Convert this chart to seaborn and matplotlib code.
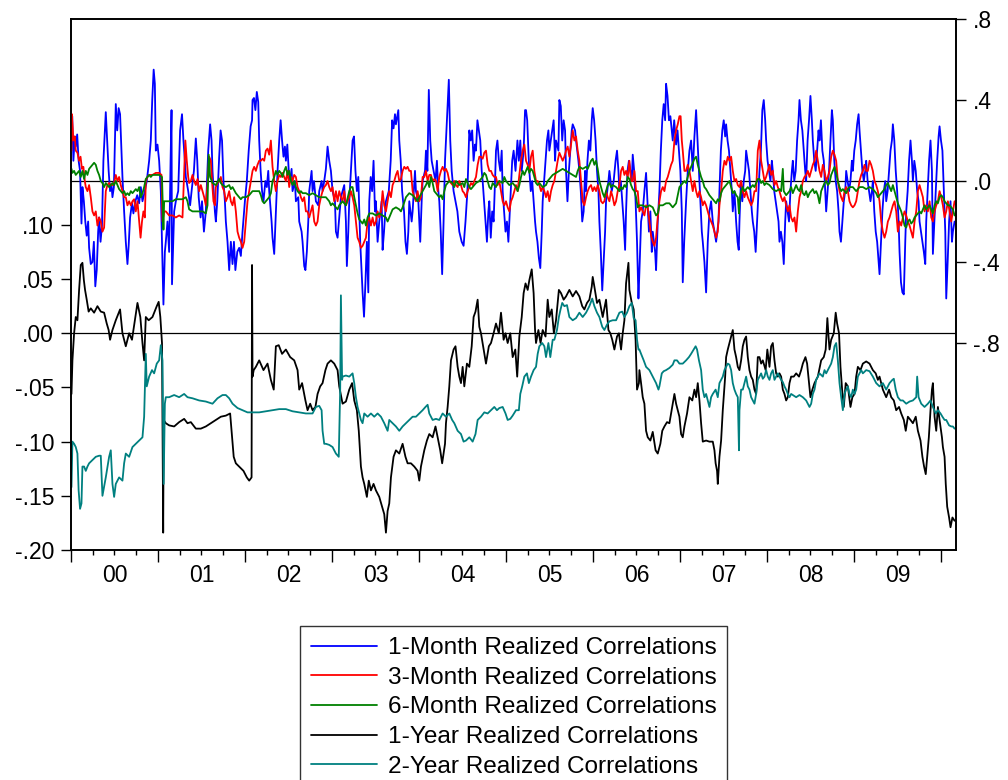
import matplotlib
matplotlib.use("Agg")
import matplotlib.pyplot as plt
import matplotlib.dates as mdates
from matplotlib.lines import Line2D
import pandas as pd
import seaborn as sns

# ---------------- data: (business-day index from 2000-01-03, value) ----------------
BLUE_1M = [
(0,0.19),(3,0.32),(6,0.10),(10,0.22),(14,0.17),(18,0.23),(22,0.10),(26,0.05),(30,-0.21),(34,-0.03),(38,-0.10),(42,-0.20),(46,-0.27),(50,-0.20),(54,-0.33),(59,-0.41),(64,-0.40),(68,-0.30),(72,-0.52),(76,-0.44),(80,-0.25),(84,-0.18),(88,-0.30),(92,-0.22),(96,0.10),(100,0.25),(104,0.34),(108,0.20),(112,0.05),(116,-0.05),(120,-0.02),(124,-0.08),(128,-0.03),(134,0.38),(138,0.25),(142,0.36),(146,0.33),(150,0.15),(154,0.02),(159,-0.15),(164,-0.30),(169,-0.41),(172,-0.32),(176,-0.18),(182,-0.11),(186,-0.16),(192,-0.10),(198,-0.07),(204,-0.11),(209,-0.03),(214,-0.10),(220,-0.05),(226,0.00),(230,0.06),(234,0.10),(239,0.20),(243,0.40),(247,0.55),(250,0.48),(254,0.15),(259,0.18),(264,0.10),(269,-0.05),(273,-0.35),(276,-0.61),(280,-0.35),(284,-0.30),(289,-0.20),(294,-0.35),(298,0.10),(300,0.35),(302,-0.51),(309,-0.15),(314,-0.10),(320,-0.05),(326,0.25),(332,0.33),(336,0.20),(340,0.10),(344,0.02),(350,-0.05),(356,-0.12),(362,-0.03),(368,0.05),(374,0.21),(378,0.10),(382,-0.08),(388,-0.18),(392,-0.10),(398,-0.25),(404,-0.15),(410,0.15),(416,0.28),(420,0.20),(424,0.05),(430,-0.15),(434,-0.20),(438,-0.10),(444,0.12),(448,0.25),(452,0.20),(456,0.00),(460,-0.10),(464,-0.20),(469,-0.30),(474,-0.44),(479,-0.30),(484,-0.41),(488,-0.30),(492,-0.44),(498,-0.35),(504,-0.33),(509,-0.37),(514,-0.25),(520,-0.10),(526,0.00),(532,0.15),(538,0.27),(542,0.30),(544,0.40),(548,0.41),(552,0.35),(556,0.44),(560,0.39),(564,0.20),(568,0.05),(572,-0.05),(576,-0.10),(582,0.00),(586,-0.03),(590,0.05),(594,-0.05),(600,-0.20),(604,-0.28),(609,-0.36),(614,-0.15),(619,0.05),(624,0.20),(628,0.30),(632,0.20),(636,0.12),(640,0.17),(644,0.10),(648,0.18),(652,0.05),(656,0.00),(660,0.06),(664,-0.05),(670,0.00),(674,-0.10),(680,-0.08),(684,-0.20),(690,-0.25),(694,-0.30),(699,-0.42),(702,-0.44),(706,-0.35),(710,-0.20),(714,-0.05),(720,0.05),(724,-0.05),(728,0.00),(734,-0.10),(740,-0.12),(744,-0.05),(750,0.00),(754,-0.05),(759,0.00),(764,0.06),(769,0.17),(774,0.10),(779,0.05),(784,-0.05),(790,-0.10),(794,-0.25),(799,-0.28),(804,-0.18),(809,-0.08),(814,-0.05),(819,-0.02),(824,-0.20),(826,-0.42),(830,-0.25),(834,-0.10),(839,0.05),(844,0.20),(848,0.22),(852,0.05),(856,-0.05),(860,0.02),
(866,-0.30),(870,-0.45),(874,-0.55),(878,-0.67),(882,-0.50),(886,-0.30),(890,-0.55),(894,-0.10),(898,0.02),(902,-0.05),(906,0.10),(910,-0.15),(914,-0.10),(919,-0.30),(924,-0.20),(930,-0.10),(934,-0.34),(938,-0.25),(944,-0.10),(952,-0.05),(958,0.10),(962,0.30),(966,0.26),(970,0.33),(974,0.28),(980,0.35),(984,0.20),(988,0.10),(992,-0.05),(998,-0.15),(1002,-0.30),(1006,-0.36),(1010,-0.25),(1014,-0.10),(1020,-0.20),(1024,-0.15),(1030,0.05),(1034,-0.05),(1040,-0.10),(1046,-0.30),(1050,-0.10),(1054,0.00),(1060,0.05),(1064,0.15),(1068,0.05),(1072,0.45),(1076,0.20),(1080,0.10),(1086,0.05),(1092,0.00),(1096,0.10),(1100,-0.05),(1104,-0.10),(1108,-0.25),(1112,-0.46),(1116,-0.20),(1120,0.10),(1124,0.20),(1128,0.35),(1132,0.50),(1136,0.20),(1140,0.05),(1146,-0.05),(1152,-0.10),(1158,-0.15),(1164,-0.25),(1170,-0.30),(1176,-0.32),(1182,-0.20),(1188,-0.05),(1194,0.25),(1198,0.20),(1202,0.25),(1206,0.10),(1210,0.18),(1214,0.15),(1218,0.30),(1222,0.25),(1226,0.20),(1230,0.05),(1234,0.00),(1238,-0.10),(1242,-0.20),(1246,-0.30),(1250,-0.15),(1254,-0.10),(1258,-0.28),(1262,-0.15),(1266,-0.20),(1270,0.00),(1274,0.15),(1278,0.20),(1282,0.10),(1286,0.05),(1290,0.15),(1294,-0.05),(1298,-0.15),(1302,-0.25),(1306,-0.20),(1310,-0.30),(1314,-0.20),(1318,-0.05),(1322,0.10),(1326,0.15),(1332,0.05),(1338,0.20),(1342,0.10),(1346,0.20),(1350,0.05),(1356,0.15),(1360,0.35),(1364,0.35),(1367,0.30),(1370,0.15),(1374,0.05),(1378,-0.05),(1382,0.00),(1386,-0.10),(1390,-0.20),(1394,-0.25),(1398,-0.30),(1402,-0.38),(1406,-0.43),(1410,-0.25),(1414,-0.10),(1418,0.00),(1422,0.10),(1426,0.20),(1430,0.25),(1434,0.15),(1438,0.20),(1442,0.25),(1446,0.30),(1450,0.10),(1454,0.20),(1460,0.15),(1464,0.40),(1468,0.37),(1472,0.20),(1476,0.30),(1480,0.25),(1484,0.05),(1488,-0.10),(1492,0.05),(1496,0.15),(1500,0.25),(1504,0.28),(1510,0.25),(1514,0.20),(1520,0.10),(1524,0.05),(1528,-0.05),(1532,-0.20),(1536,-0.15),(1540,0.05),(1544,-0.05),(1548,0.10),(1552,0.20),(1556,0.15),(1560,0.30),(1564,0.36),(1568,0.30),(1572,0.20),(1576,0.05),(1580,-0.05),(1584,-0.20),(1588,-0.35),(1592,-0.54),(1596,-0.40),(1600,-0.25),(1604,-0.10),(1610,0.00),(1614,0.05),(1620,-0.05),(1626,0.00),(1632,0.10),(1636,0.15),(1640,0.05),(1644,-0.05),(1648,0.00),(1652,-0.10),(1656,-0.20),(1660,-0.34),(1664,-0.15),(1668,0.05),(1672,0.10),(1676,0.05),(1680,0.00),(1684,0.13),(1688,0.05),(1692,-0.10),(1696,-0.30),(1700,-0.58),
(1704,-0.45),(1709,-0.20),(1714,-0.15),(1719,-0.05),(1724,0.04),(1728,-0.10),(1732,-0.25),(1736,-0.15),(1740,-0.35),(1744,-0.25),(1750,-0.35),(1754,-0.44),(1759,-0.20),(1764,-0.05),(1768,0.15),(1772,0.30),(1776,0.38),(1780,0.30),(1784,0.48),(1788,0.42),(1792,0.30),(1796,0.32),(1800,0.25),(1804,0.20),(1808,0.30),(1814,0.18),(1818,0.25),(1822,0.15),(1826,0.05),(1830,-0.15),(1834,-0.50),(1838,-0.30),(1844,-0.10),(1849,0.05),(1854,0.15),(1859,0.20),(1864,0.05),(1869,0.22),(1874,0.35),(1878,0.20),(1882,0.05),(1886,-0.10),(1890,-0.25),(1894,-0.30),(1899,-0.40),(1904,-0.55),(1909,-0.30),(1914,-0.15),(1919,-0.10),(1924,-0.20),(1929,-0.25),(1934,-0.30),(1940,-0.20),(1944,-0.05),(1948,0.15),(1952,0.25),(1956,0.30),(1960,0.22),(1964,0.28),(1968,0.20),(1972,0.15),(1976,0.05),(1980,-0.05),(1984,-0.15),(1989,-0.05),(1994,-0.20),(1998,-0.30),(2001,-0.34),(2004,-0.20),(2008,0.00),(2012,-0.10),(2016,0.00),(2020,0.05),(2024,0.15),(2028,0.10),(2032,0.05),(2036,-0.05),(2040,-0.15),(2044,-0.20),(2048,-0.25),(2052,-0.35),(2056,-0.20),(2060,-0.05),(2064,0.05),(2068,0.15),(2072,0.35),(2076,0.40),(2080,0.30),(2084,0.20),(2088,0.10),(2092,0.05),(2096,0.00),(2100,0.10),(2104,0.05),(2108,-0.05),(2112,-0.10),(2116,-0.15),(2120,-0.20),(2124,-0.30),(2128,-0.25),(2132,-0.30),(2136,-0.41),(2140,-0.20),(2144,-0.10),(2148,-0.15),(2152,-0.20),(2156,-0.05),(2160,0.05),(2164,0.10),(2168,0.00),(2172,0.05),(2176,0.20),(2180,0.30),(2184,0.40),(2188,0.30),(2192,0.25),(2196,0.15),(2200,0.05),(2204,0.00),(2208,0.20),(2212,0.30),(2216,0.42),(2220,0.30),(2224,0.20),(2228,0.10),(2232,0.05),(2236,0.15),(2240,0.25),(2244,0.20),(2248,0.30),(2252,0.15),(2256,0.10),(2260,-0.05),(2264,-0.15),(2268,-0.05),(2272,0.05),(2276,0.20),(2280,0.35),(2284,0.30),(2288,0.10),(2292,0.00),(2296,-0.05),(2300,-0.15),(2304,-0.25),(2308,-0.30),(2312,-0.20),(2316,-0.10),(2320,-0.05),(2324,0.05),(2328,0.00),(2332,-0.05),(2336,0.00),(2340,0.10),(2344,0.05),(2348,0.15),(2352,0.20),(2356,0.28),(2360,0.33),(2364,0.25),(2368,0.15),(2372,0.05),(2376,0.00),(2380,0.05),(2384,0.10),(2388,0.00),(2392,-0.05),(2396,-0.10),(2400,-0.05),(2404,0.00),(2408,-0.15),(2412,-0.25),(2416,-0.30),(2420,-0.40),(2424,-0.46),(2428,-0.30),(2432,-0.15),(2436,-0.05),(2440,0.00),(2444,-0.10),(2448,-0.05),(2452,0.05),(2456,0.15),(2460,0.20),(2464,0.28),(2468,0.20),(2472,0.05),(2476,-0.05),(2480,-0.20),(2484,-0.35),(2488,-0.50),(2492,-0.55),(2496,-0.56),(2500,-0.30),(2504,-0.15),(2508,-0.05),(2512,0.10),(2516,0.20),(2520,0.10),(2524,0.00),(2528,0.10),(2532,0.05),(2536,-0.05),(2540,-0.10),(2544,-0.20),(2548,-0.25),(2552,-0.30),(2556,-0.35),(2560,-0.41),(2564,-0.20),(2568,-0.05),(2572,0.10),(2576,0.20),(2580,0.05),(2584,-0.36),(2588,-0.20),(2592,-0.05),(2596,0.10),(2600,0.22),(2604,0.27),(2608,0.20),(2612,0.15),(2616,-0.05),(2620,-0.25),(2624,-0.58),(2628,-0.40),(2632,-0.20),(2636,-0.10),(2640,-0.30),(2644,-0.25),(2649,-0.20),
]

RED_3M = [
(0,0.15),(2,0.33),(6,0.20),(10,0.22),(14,0.15),(19,0.14),(24,0.10),(28,0.12),(32,0.06),(36,0.07),(40,0.00),(44,-0.03),(49,-0.05),(54,-0.02),(59,-0.08),(64,-0.15),(69,-0.17),(74,-0.15),(79,-0.22),(84,-0.18),(89,-0.20),(94,-0.25),(99,-0.23),(104,-0.05),(109,-0.02),(114,-0.01),(119,-0.02),(124,-0.02),(129,-0.01),(134,0.03),(139,0.00),(144,0.02),(149,-0.02),(154,-0.05),(159,-0.08),(164,-0.08),(169,-0.12),(174,-0.10),(179,-0.12),(184,-0.10),(189,-0.09),(194,-0.15),(199,-0.10),(204,-0.20),(208,-0.28),(212,-0.20),(216,-0.15),(220,-0.18),(224,0.00),(229,0.02),(234,0.03),(244,0.03),(254,0.04),(264,0.04),(270,0.03),(274,-0.20),(279,-0.15),(284,-0.15),(294,-0.17),(304,-0.17),(314,-0.18),(324,-0.17),(334,-0.18),(339,0.05),(342,0.20),(346,0.10),(350,0.02),(354,-0.01),(359,0.00),(364,0.03),(369,0.00),(374,-0.02),(379,0.01),(384,-0.05),(389,-0.02),(394,-0.05),(399,-0.08),(404,-0.12),(409,-0.02),(414,0.12),(419,0.10),(422,0.00),(426,-0.10),(430,-0.12),(434,-0.03),(439,-0.01),(444,0.00),(449,0.02),(454,-0.03),(459,-0.05),(464,-0.10),(469,-0.08),(474,-0.05),(479,-0.10),(484,-0.12),(489,-0.08),(494,-0.15),(499,-0.25),(504,-0.28),(509,-0.30),(514,-0.33),(519,-0.30),(524,-0.20),(529,-0.10),(534,-0.05),(539,0.00),(544,0.05),(549,0.07),(554,0.05),(559,0.08),(564,0.10),(569,0.10),(574,0.11),(579,0.10),(584,0.15),(589,0.16),(594,0.13),(599,0.20),(604,0.07),(609,0.00),(614,-0.05),(619,0.00),(624,0.03),(629,0.02),(634,0.04),(639,0.02),(644,0.00),(649,0.05),(654,-0.03),(659,0.02),(664,0.00),(669,0.03),(674,0.02),(679,-0.03),(684,-0.05),(689,-0.08),(694,-0.10),(699,-0.08),(704,-0.15),(709,-0.15),(714,-0.18),(719,-0.15),(724,-0.12),(729,-0.20),(734,-0.22),(739,-0.20),(744,-0.12),(749,-0.08),(754,-0.05),(759,-0.03),(764,-0.02),(769,0.00),(774,-0.03),(779,-0.05),(784,-0.03),(789,-0.10),(794,-0.05),(799,-0.10),
(804,-0.05),(809,-0.08),(814,-0.10),(819,-0.05),(824,-0.12),(829,-0.10),(834,-0.08),(839,-0.05),(844,-0.08),(849,-0.12),(854,-0.20),(859,-0.28),(864,-0.30),(869,-0.33),(874,-0.32),(879,-0.30),(884,-0.28),(889,-0.20),(894,-0.18),(899,-0.22),(904,-0.18),(909,-0.22),(914,-0.20),(919,-0.15),(924,-0.18),(929,-0.15),(934,-0.05),(939,-0.12),(944,-0.15),(949,-0.10),(954,-0.05),(959,-0.08),(964,-0.02),(969,0.00),(974,0.03),(979,0.05),(984,0.00),(989,0.01),(994,0.05),(999,0.07),(1004,0.06),(1009,0.07),(1014,0.05),(1019,0.05),(1024,-0.05),(1029,-0.08),(1034,-0.10),(1039,-0.05),(1044,-0.10),(1049,-0.08),(1054,0.02),(1059,0.02),(1064,0.05),(1069,0.00),(1074,0.03),(1079,0.03),(1084,0.00),(1089,0.01),(1094,0.00),(1099,-0.05),(1104,0.02),(1109,0.05),(1114,0.07),(1119,0.05),(1124,0.06),(1129,0.04),(1134,0.00),(1139,-0.01),(1144,-0.02),(1149,0.00),(1154,-0.02),(1159,-0.03),(1164,0.00),(1169,-0.02),(1174,-0.05),(1179,-0.06),(1184,-0.08),(1189,-0.05),(1194,-0.03),(1199,-0.01),(1204,-0.02),(1209,0.00),(1214,0.02),(1219,0.08),(1224,0.12),(1229,0.12),(1234,0.11),(1239,0.14),(1244,0.15),(1249,0.08),(1254,0.05),(1259,0.05),(1264,0.03),(1269,0.02),(1274,0.02),(1279,-0.02),(1284,0.00),(1289,-0.05),(1294,-0.10),(1299,-0.12),(1304,-0.10),(1309,-0.13),(1314,-0.15),(1319,-0.10),(1324,-0.08),(1329,-0.05),(1334,-0.02),(1339,-0.05),(1344,0.03),(1349,0.10),(1354,0.15),(1359,0.18),(1364,0.10),(1369,0.08),(1374,0.05),(1379,0.12),(1384,0.15),(1389,0.05),(1394,0.00),(1399,0.00),(1404,-0.02),(1409,-0.05),(1414,-0.03),(1419,-0.05),(1424,-0.08),(1429,-0.05),(1434,-0.10),(1439,-0.05),(1444,-0.02),(1449,0.00),(1454,0.05),(1459,0.10),(1464,0.14),(1469,0.12),(1474,0.10),(1479,0.12),(1484,0.15),(1489,0.17),(1494,0.12),(1499,0.18),(1504,0.25),(1509,0.20),(1514,0.22),(1519,0.15),(1524,0.10),(1529,0.00),(1534,-0.10),(1539,-0.12),(1544,-0.08),(1549,-0.05),(1554,-0.03),(1559,-0.02),(1564,-0.05),(1569,-0.03),(1574,-0.05),(1579,-0.02),(1584,-0.05),(1589,-0.10),(1594,-0.11),(1599,-0.10),(1604,-0.05),(1609,-0.08),(1614,-0.10),(1619,-0.05),(1624,-0.08),(1629,-0.12),(1634,-0.10),(1639,-0.05),(1644,-0.02),(1649,0.05),(1654,0.07),(1659,0.03),(1664,0.05),(1669,0.02),(1674,0.10),(1679,0.00),(1684,0.00),(1689,0.05),(1694,-0.05),(1699,-0.05),
(1704,-0.15),(1709,-0.13),(1714,-0.15),(1719,-0.17),(1724,-0.12),(1729,-0.13),(1734,-0.20),(1739,-0.27),(1744,-0.30),(1749,-0.32),(1754,-0.28),(1759,-0.18),(1764,-0.10),(1769,-0.05),(1774,-0.03),(1779,-0.05),(1784,0.00),(1789,0.02),(1794,0.05),(1799,0.08),(1804,0.10),(1809,0.20),(1814,0.25),(1819,0.28),(1824,0.32),(1827,0.32),(1830,0.20),(1834,0.15),(1839,0.05),(1844,0.05),(1849,0.08),(1854,0.05),(1859,0.00),(1864,-0.05),(1869,0.00),(1874,-0.05),(1879,-0.08),(1884,-0.05),(1889,-0.08),(1894,-0.12),(1899,-0.10),(1904,-0.12),(1909,-0.15),(1914,-0.18),(1919,-0.20),(1924,-0.22),(1929,-0.25),(1934,-0.28),(1939,-0.25),(1944,-0.12),(1949,-0.05),(1954,0.05),(1959,0.10),(1964,0.08),(1969,0.12),(1974,0.10),(1979,0.12),(1984,0.05),(1989,0.00),(1994,0.01),(1999,-0.02),(2004,-0.03),(2009,0.00),(2014,-0.05),(2019,-0.08),(2024,-0.05),(2029,-0.08),(2034,-0.10),(2039,-0.12),(2044,-0.10),(2049,-0.05),(2054,-0.05),(2059,0.15),(2064,0.20),(2069,0.10),(2074,0.05),(2079,0.00),(2084,0.02),(2089,0.05),(2094,0.08),(2099,0.03),(2104,0.05),(2109,-0.02),(2114,0.00),(2119,-0.03),(2124,-0.05),(2129,-0.08),(2134,-0.10),(2139,-0.08),(2144,-0.12),(2149,-0.15),(2154,-0.12),(2159,-0.18),(2164,-0.20),(2169,-0.18),(2174,-0.25),(2179,-0.15),(2184,-0.08),(2189,-0.05),(2194,0.00),(2199,0.02),(2204,0.03),(2209,0.05),(2214,0.02),(2219,0.05),(2224,0.08),(2229,0.10),(2234,0.15),(2239,0.10),(2244,0.05),(2249,0.02),(2254,0.08),(2259,0.05),(2264,0.00),(2269,0.02),(2274,0.05),(2279,0.12),(2284,0.15),(2289,0.13),(2294,0.10),(2299,0.00),(2304,-0.05),(2309,-0.08),(2314,-0.10),(2319,-0.05),(2324,-0.03),(2329,-0.05),(2334,-0.10),(2339,-0.12),(2344,-0.13),(2349,-0.12),(2354,-0.10),(2359,-0.05),(2364,0.00),(2369,0.03),(2374,0.05),(2379,0.08),(2384,0.05),(2389,0.05),(2394,0.10),(2399,0.08),(2404,0.05),(2409,0.00),(2414,-0.02),(2419,-0.05),(2424,-0.10),(2429,-0.20),(2434,-0.25),(2439,-0.28),(2444,-0.25),(2449,-0.20),(2454,-0.18),(2459,-0.15),(2464,-0.12),(2469,-0.10),(2474,-0.15),(2479,-0.25),(2484,-0.20),(2489,-0.22),(2494,-0.18),(2499,-0.15),(2504,-0.17),(2509,-0.20),(2514,-0.22),(2519,-0.25),(2524,-0.28),(2529,-0.20),(2534,-0.15),(2539,-0.05),(2544,-0.02),(2549,-0.05),(2554,-0.08),(2559,-0.15),(2564,-0.12),(2569,-0.15),(2574,-0.10),(2579,-0.18),(2584,-0.20),(2589,-0.15),(2594,-0.12),(2599,-0.10),(2604,-0.05),(2609,-0.08),(2614,-0.12),(2619,-0.18),(2624,-0.15),(2629,-0.10),(2634,-0.15),(2639,-0.20),(2644,-0.15),(2649,-0.10),
]

GREEN_6M = [
(0,0.06),(4,0.04),(9,0.05),(14,0.03),(19,0.04),(24,0.05),(29,0.02),(34,0.05),(39,0.01),(44,0.05),(49,0.03),(54,0.06),(59,0.07),(64,0.08),(69,0.09),(74,0.08),(79,0.05),(84,0.03),(89,0.00),(94,-0.01),(99,-0.03),(104,-0.01),(109,-0.02),(114,-0.03),(119,-0.02),(124,-0.01),(129,-0.02),(134,0.00),(139,-0.02),(144,-0.04),(149,-0.05),(154,-0.06),(159,-0.05),(164,-0.07),(169,-0.06),(174,-0.07),(179,-0.05),(184,-0.06),(194,-0.04),(199,-0.05),(204,-0.03),(209,-0.08),(214,-0.06),(219,-0.03),(224,0.01),(229,0.02),(234,0.03),(239,0.02),(244,0.03),(254,0.03),(264,0.03),(272,0.02),(276,-0.24),(279,-0.10),(284,-0.10),(294,-0.10),(304,-0.10),(314,-0.09),(324,-0.09),(334,-0.09),(344,-0.08),(349,-0.10),(354,-0.14),(364,-0.15),(374,-0.15),(384,-0.15),(394,-0.15),(404,-0.16),(409,-0.12),(412,0.13),(416,0.02),(424,-0.01),(434,-0.02),(444,0.01),(449,-0.01),(454,-0.02),(464,-0.03),(474,-0.02),(479,-0.04),(484,-0.03),(494,-0.06),(504,-0.08),(509,-0.09),(514,-0.08),(524,-0.08),(534,-0.07),(544,-0.05),(554,-0.05),(564,-0.05),(569,-0.07),(574,-0.10),(579,-0.11),(584,-0.10),(589,-0.09),(594,-0.08),(599,-0.06),(604,0.00),(609,0.02),(614,0.05),(619,0.03),(624,0.05),(629,0.04),(634,0.02),(639,0.05),(644,0.07),(649,0.03),(654,0.05),(659,0.00),(664,-0.02),(669,0.00),(674,-0.03),(679,-0.05),(684,-0.06),(689,-0.05),(694,-0.06),(704,-0.06),(714,-0.07),(724,-0.06),(734,-0.07),(744,-0.08),(754,-0.08),(764,-0.08),(769,-0.09),(774,-0.10),(779,-0.12),(784,-0.11),(789,-0.12),(794,-0.13),(799,-0.14),
(804,-0.12),(814,-0.10),(824,-0.12),(834,-0.05),(839,-0.03),(844,-0.03),(849,-0.08),(854,-0.12),(859,-0.16),(864,-0.19),(869,-0.20),(874,-0.21),(879,-0.19),(884,-0.22),(889,-0.18),(894,-0.16),(904,-0.16),(914,-0.17),(924,-0.16),(934,-0.17),(944,-0.18),(949,-0.20),(954,-0.18),(964,-0.14),(974,-0.13),(984,-0.14),(989,-0.15),(994,-0.13),(1004,-0.08),(1014,-0.06),(1024,-0.07),(1034,-0.09),(1039,-0.10),(1044,-0.08),(1054,-0.05),(1064,-0.02),(1069,0.00),(1074,-0.03),(1079,0.02),(1084,-0.01),(1089,-0.05),(1094,-0.06),(1104,-0.08),(1109,-0.07),(1114,-0.09),(1119,-0.05),(1124,-0.02),(1129,-0.01),(1134,0.00),(1144,-0.01),(1149,-0.03),(1154,0.00),(1164,-0.02),(1174,-0.01),(1179,-0.03),(1184,0.01),(1194,-0.03),(1199,-0.04),(1204,-0.03),(1214,-0.01),(1224,0.00),(1229,0.01),(1234,0.02),(1239,0.04),(1244,0.03),(1249,0.00),(1254,-0.03),(1259,-0.04),(1264,-0.01),(1269,-0.02),(1274,-0.03),(1279,-0.01),(1284,0.00),(1294,-0.01),(1299,0.02),(1304,0.00),(1309,-0.01),(1314,-0.02),(1324,-0.01),(1334,-0.03),(1339,-0.05),(1344,-0.02),(1349,0.02),(1354,0.05),(1359,0.03),(1364,0.05),(1369,0.07),(1374,0.04),(1379,0.06),(1384,0.05),(1389,0.02),(1394,-0.01),(1399,-0.02),(1404,-0.01),(1414,-0.03),(1424,-0.02),(1429,0.00),(1434,0.01),(1444,0.03),(1454,0.04),(1464,0.05),(1474,0.06),(1484,0.05),(1494,0.04),(1504,0.03),(1514,0.02),(1519,0.05),(1524,0.07),(1534,0.06),(1544,0.07),(1549,0.06),(1554,0.08),(1559,0.10),(1564,0.11),(1569,0.08),(1574,0.10),(1579,0.06),(1584,0.00),(1589,-0.03),(1594,-0.06),(1599,-0.08),(1604,-0.05),(1609,-0.02),(1614,-0.01),(1619,-0.03),(1624,-0.02),(1634,-0.03),(1644,-0.05),(1649,-0.03),(1654,-0.04),(1659,-0.02),(1664,-0.03),(1669,0.02),(1674,0.01),(1679,-0.02),(1684,-0.04),(1689,-0.05),(1694,-0.08),(1699,-0.13),
(1704,-0.12),(1714,-0.12),(1724,-0.13),(1734,-0.12),(1744,-0.13),(1754,-0.17),(1759,-0.16),(1764,-0.12),(1774,-0.12),(1784,-0.11),(1794,-0.11),(1804,-0.13),(1809,-0.12),(1814,-0.11),(1819,-0.07),(1824,-0.03),(1829,-0.02),(1834,-0.01),(1839,0.00),(1844,-0.01),(1849,0.02),(1854,0.05),(1859,0.07),(1864,0.09),(1869,0.11),(1874,0.12),(1879,0.08),(1884,0.05),(1889,0.02),(1894,0.00),(1899,-0.03),(1904,-0.04),(1914,-0.07),(1924,-0.09),(1929,-0.10),(1934,-0.11),(1939,-0.09),(1944,-0.10),(1949,-0.06),(1954,-0.04),(1964,-0.02),(1969,-0.01),(1974,0.00),(1979,-0.03),(1984,-0.06),(1989,-0.05),(1994,-0.07),(1999,-0.08),(2002,-0.16),(2004,-0.10),(2009,-0.05),(2014,-0.03),(2019,-0.05),(2024,-0.04),(2029,-0.03),(2034,-0.04),(2039,-0.03),(2044,-0.02),(2049,-0.03),(2054,-0.01),(2059,0.01),(2064,0.01),(2069,-0.01),(2074,0.00),(2079,-0.02),(2084,-0.01),(2094,-0.02),(2104,-0.04),(2114,-0.05),(2124,-0.04),(2129,-0.05),(2134,0.06),(2136,-0.05),(2144,-0.07),(2149,-0.06),(2154,-0.05),(2159,-0.03),(2164,-0.06),(2169,-0.04),(2174,-0.02),(2179,-0.04),(2184,-0.05),(2189,-0.02),(2194,-0.06),(2199,-0.07),(2204,-0.05),(2209,-0.08),(2214,-0.06),(2219,-0.05),(2224,-0.04),(2229,-0.06),(2234,-0.05),(2239,-0.07),(2244,-0.11),(2249,-0.05),(2254,-0.03),(2259,-0.01),(2264,0.00),(2269,-0.02),(2274,-0.01),(2279,0.03),(2284,0.05),(2289,0.07),(2294,0.04),(2299,0.00),(2304,-0.03),(2309,-0.05),(2314,-0.04),(2319,-0.05),(2324,-0.06),(2329,-0.04),(2334,-0.03),(2344,-0.03),(2354,-0.05),(2364,-0.03),(2374,-0.03),(2384,-0.04),(2394,-0.03),(2404,-0.04),(2409,-0.05),(2414,-0.06),(2419,-0.08),(2424,-0.07),(2434,-0.05),(2439,-0.04),(2444,-0.02),(2449,-0.01),(2454,-0.03),(2459,-0.05),(2464,-0.02),(2469,-0.05),(2474,-0.08),(2479,-0.11),(2484,-0.13),(2489,-0.15),(2494,-0.18),(2499,-0.22),(2504,-0.23),(2509,-0.20),(2514,-0.19),(2519,-0.21),(2524,-0.20),(2529,-0.18),(2534,-0.17),(2539,-0.16),(2544,-0.15),(2549,-0.16),(2554,-0.14),(2559,-0.12),(2564,-0.14),(2569,-0.13),(2574,-0.12),(2579,-0.14),(2584,-0.16),(2589,-0.12),(2594,-0.10),(2599,-0.11),(2604,-0.08),(2609,-0.07),(2614,-0.08),(2619,-0.10),(2624,-0.11),(2629,-0.12),(2634,-0.12),(2639,-0.13),(2644,-0.14),(2649,-0.17),
]

BLACK_1Y = [
(0,-0.056),(4,-0.025),(9,0.000),(14,0.015),(19,0.012),(24,0.040),(29,0.063),(34,0.065),(38,0.049),(41,0.040),(46,0.031),(52,0.020),(59,0.023),(69,0.019),(79,0.025),(89,0.020),(99,0.019),(106,0.009),(112,0.003),(116,-0.006),(124,0.003),(134,0.012),(146,0.022),(154,0.000),(164,-0.012),(174,0.000),(182,-0.006),(192,0.015),(199,0.028),(207,0.015),(214,-0.009),(219,-0.025),(224,0.015),(232,0.012),(244,0.015),(256,0.025),(262,0.029),(267,0.015),(272,-0.009),(275,-0.184),(277,-0.080),(284,-0.083),(294,-0.085),(309,-0.086),(324,-0.082),(339,-0.079),(349,-0.083),(359,-0.082),(374,-0.088),(389,-0.088),(404,-0.086),(419,-0.083),(434,-0.080),(449,-0.077),(464,-0.076),(476,-0.074),(482,-0.096),(487,-0.114),(494,-0.120),(504,-0.123),(516,-0.127),(526,-0.133),(534,-0.136),(540,-0.133),(542,0.063),(544,-0.040),(547,-0.034),(554,-0.031),(564,-0.025),(576,-0.034),(589,-0.028),(599,-0.043),(607,-0.052),(614,-0.012),(622,-0.011),(632,-0.019),(644,-0.015),(656,-0.022),(669,-0.025),(679,-0.034),(684,-0.052),(692,-0.046),(702,-0.062),(709,-0.071),(716,-0.065),(724,-0.071),(732,-0.068),(739,-0.056),(746,-0.049),(754,-0.046),(762,-0.034),(769,-0.028),(779,-0.025),(789,-0.028),(799,-0.034),
(804,-0.049),(814,-0.065),(824,-0.063),(834,-0.052),(842,-0.046),(849,-0.062),(856,-0.071),(862,-0.090),(869,-0.123),(874,-0.133),(879,-0.139),(886,-0.151),(892,-0.136),(899,-0.145),(906,-0.139),(914,-0.145),(924,-0.151),(932,-0.160),(939,-0.167),(944,-0.184),(949,-0.164),(954,-0.157),(959,-0.133),(966,-0.114),(974,-0.108),(984,-0.111),(994,-0.102),(1002,-0.114),(1009,-0.120),(1019,-0.120),(1029,-0.123),(1039,-0.127),(1044,-0.136),(1049,-0.123),(1059,-0.108),(1066,-0.099),(1074,-0.093),(1084,-0.096),(1092,-0.086),(1099,-0.096),(1106,-0.108),(1112,-0.120),(1116,-0.111),(1120,-0.102),(1124,-0.083),(1129,-0.068),(1134,-0.049),(1139,-0.025),(1146,-0.015),(1152,-0.012),(1159,-0.031),(1164,-0.040),(1169,-0.046),(1174,-0.031),(1179,-0.049),(1186,-0.028),(1194,-0.031),(1200,-0.012),(1206,0.015),(1212,0.020),(1219,0.031),(1224,0.006),(1229,0.000),(1236,-0.015),(1244,-0.028),(1252,-0.012),(1259,-0.009),(1266,0.000),(1274,0.009),(1282,0.000),(1289,0.019),(1296,-0.006),(1302,0.000),(1309,-0.009),(1316,0.000),(1324,-0.022),(1331,-0.015),(1337,-0.040),(1344,-0.003),(1350,0.015),(1356,0.037),(1362,0.046),(1369,0.040),(1374,0.049),(1380,0.059),(1386,0.037),(1390,0.003),(1394,-0.009),(1400,0.003),(1407,-0.009),(1414,0.003),(1422,-0.003),(1429,0.031),(1434,0.015),(1440,0.022),(1447,0.000),(1454,0.012),(1462,0.040),(1469,0.037),(1476,0.031),(1484,0.034),(1494,0.040),(1504,0.034),(1514,0.039),(1524,0.034),(1532,0.025),(1539,0.022),(1546,0.028),(1554,0.031),(1560,0.043),(1564,0.052),(1569,0.043),(1576,0.028),(1584,0.031),(1594,0.015),(1604,0.031),(1610,0.003),(1616,0.000),(1622,-0.006),(1629,-0.015),(1636,-0.003),(1642,0.000),(1649,-0.015),(1654,0.000),(1659,0.012),(1664,0.046),(1670,0.065),(1674,0.040),(1680,0.028),(1686,0.022),(1692,-0.006),(1696,-0.052),(1702,-0.046),
(1704,-0.034),(1709,-0.046),(1714,-0.059),(1719,-0.065),(1724,-0.090),(1729,-0.096),(1736,-0.099),(1744,-0.091),(1752,-0.108),(1759,-0.111),(1766,-0.102),(1772,-0.090),(1779,-0.086),(1786,-0.082),(1794,-0.083),(1799,-0.074),(1804,-0.065),(1809,-0.056),(1814,-0.065),(1819,-0.071),(1824,-0.077),(1829,-0.093),(1834,-0.096),(1839,-0.086),(1846,-0.074),(1854,-0.059),(1862,-0.062),(1869,-0.052),(1874,-0.059),(1879,-0.046),(1884,-0.062),(1889,-0.083),(1894,-0.100),(1904,-0.099),(1914,-0.100),(1924,-0.100),(1929,-0.108),(1932,-0.120),(1936,-0.127),(1939,-0.139),(1944,-0.114),(1949,-0.099),(1954,-0.071),(1960,-0.040),(1964,-0.022),(1969,-0.015),(1974,-0.009),(1979,-0.003),(1984,0.003),(1989,-0.015),(1994,-0.022),(1999,-0.031),(2004,-0.034),(2009,-0.025),(2014,-0.012),(2019,-0.006),(2024,-0.003),(2029,-0.022),(2034,-0.034),(2039,-0.040),(2044,-0.043),(2049,-0.052),(2054,-0.056),(2059,-0.022),(2064,-0.022),(2069,-0.028),(2074,-0.025),(2082,-0.034),(2087,-0.015),(2094,-0.031),(2099,-0.012),(2104,-0.009),(2109,-0.025),(2114,-0.037),(2119,-0.040),(2124,-0.037),(2129,-0.040),(2134,-0.052),(2139,-0.056),(2144,-0.062),(2149,-0.059),(2154,-0.046),(2159,-0.040),(2166,-0.040),(2174,-0.037),(2182,-0.040),(2189,-0.034),(2194,-0.028),(2201,-0.022),(2206,-0.028),(2212,-0.046),(2216,-0.059),(2222,-0.052),(2229,-0.046),(2239,-0.040),(2249,-0.025),(2256,-0.022),(2262,-0.015),(2267,0.014),(2270,-0.003),(2274,-0.015),(2279,-0.006),(2286,0.000),(2292,0.019),(2296,0.009),(2302,0.000),(2306,-0.031),(2311,-0.052),(2316,-0.068),(2322,-0.046),(2329,-0.049),(2336,-0.068),(2342,-0.059),(2349,-0.056),(2354,-0.040),(2359,-0.031),(2366,-0.034),(2374,-0.028),(2384,-0.026),(2394,-0.028),(2404,-0.034),(2412,-0.037),(2419,-0.043),(2424,-0.040),(2434,-0.052),(2444,-0.059),(2452,-0.052),(2459,-0.059),(2466,-0.062),(2474,-0.071),(2482,-0.068),(2489,-0.074),(2496,-0.080),(2502,-0.090),(2509,-0.077),(2516,-0.080),(2524,-0.083),(2532,-0.077),(2539,-0.090),(2546,-0.099),(2552,-0.114),(2557,-0.123),(2562,-0.130),(2566,-0.114),(2571,-0.096),(2576,-0.071),(2580,-0.052),(2584,-0.046),(2589,-0.077),(2594,-0.090),(2599,-0.068),(2604,-0.080),(2610,-0.096),(2614,-0.105),(2619,-0.114),(2622,-0.139),(2626,-0.160),(2632,-0.170),(2636,-0.179),(2642,-0.170),(2649,-0.173),
]

TEAL_2Y = [
(0,-0.142),(4,-0.100),(9,-0.102),(14,-0.105),(19,-0.111),(22,-0.145),(26,-0.162),(30,-0.157),(34,-0.123),(39,-0.123),(44,-0.127),(49,-0.123),(54,-0.120),(64,-0.117),(74,-0.114),(84,-0.113),(89,-0.113),(94,-0.150),(104,-0.133),(114,-0.114),(119,-0.108),(124,-0.139),(129,-0.151),(134,-0.139),(139,-0.136),(144,-0.133),(154,-0.136),(159,-0.120),(164,-0.111),(174,-0.114),(184,-0.105),(194,-0.102),(204,-0.099),(214,-0.096),(219,-0.077),(224,-0.019),(226,-0.049),(234,-0.040),(242,-0.034),(249,-0.037),(256,-0.028),(264,-0.025),(269,-0.011),(274,-0.025),(277,-0.139),(280,-0.065),(284,-0.059),(294,-0.059),(309,-0.057),(324,-0.059),(339,-0.056),(349,-0.059),(364,-0.060),(384,-0.062),(404,-0.063),(424,-0.065),(439,-0.060),(454,-0.057),(464,-0.057),(474,-0.060),(484,-0.065),(499,-0.069),(514,-0.071),(529,-0.073),(544,-0.073),(564,-0.073),(584,-0.072),(604,-0.071),(624,-0.070),(644,-0.070),(664,-0.072),(684,-0.073),(704,-0.074),(724,-0.074),(734,-0.068),(744,-0.067),(750,-0.071),(754,-0.090),(759,-0.102),(764,-0.102),(774,-0.103),(784,-0.105),(794,-0.111),(802,-0.114),(806,-0.052),(809,0.035),(812,-0.043),
(814,-0.040),(824,-0.039),(834,-0.040),(844,-0.037),(849,-0.046),(854,-0.059),(859,-0.068),(864,-0.074),(869,-0.080),(874,-0.083),(879,-0.074),(889,-0.077),(899,-0.074),(909,-0.077),(919,-0.074),(929,-0.077),(939,-0.083),(949,-0.090),(954,-0.080),(964,-0.083),(974,-0.086),(984,-0.090),(994,-0.086),(1004,-0.083),(1014,-0.080),(1024,-0.077),(1034,-0.077),(1044,-0.074),(1054,-0.071),(1062,-0.068),(1069,-0.066),(1074,-0.074),(1084,-0.080),(1094,-0.079),(1104,-0.080),(1114,-0.074),(1124,-0.077),(1134,-0.074),(1142,-0.080),(1149,-0.083),(1159,-0.090),(1169,-0.093),(1176,-0.100),(1184,-0.099),(1194,-0.096),(1204,-0.100),(1212,-0.093),(1219,-0.080),(1229,-0.077),(1239,-0.073),(1249,-0.074),(1259,-0.071),(1269,-0.068),(1276,-0.071),(1284,-0.069),(1294,-0.068),(1302,-0.074),(1309,-0.080),(1316,-0.079),(1324,-0.076),(1334,-0.071),(1342,-0.071),(1346,-0.056),(1352,-0.049),(1359,-0.040),(1366,-0.037),(1372,-0.046),(1379,-0.040),(1386,-0.034),(1394,-0.031),(1399,-0.019),(1404,-0.012),(1412,-0.009),(1419,-0.012),(1424,-0.022),(1430,-0.009),(1436,-0.022),(1444,-0.006),(1449,-0.006),(1456,0.003),(1462,0.015),(1467,0.022),(1472,0.028),(1479,0.025),(1486,0.026),(1494,0.015),(1504,0.012),(1514,0.014),(1524,0.019),(1534,0.015),(1544,0.019),(1554,0.025),(1562,0.032),(1569,0.025),(1576,0.019),(1584,0.015),(1592,0.006),(1599,0.003),(1606,0.008),(1614,0.011),(1624,0.012),(1634,0.012),(1644,0.019),(1652,0.020),(1659,0.015),(1666,0.019),(1674,0.025),(1680,0.028),(1686,0.014),(1692,0.012),(1696,-0.006),(1700,-0.015),
(1704,-0.015),(1709,-0.019),(1716,-0.025),(1724,-0.031),(1734,-0.034),(1744,-0.040),(1754,-0.046),(1760,-0.052),(1764,-0.049),(1770,-0.037),(1776,-0.035),(1784,-0.034),(1794,-0.032),(1804,-0.029),(1809,-0.025),(1816,-0.025),(1824,-0.028),(1834,-0.028),(1844,-0.025),(1852,-0.022),(1859,-0.019),(1866,-0.015),(1872,-0.012),(1876,-0.015),(1882,-0.025),(1889,-0.034),(1894,-0.052),(1899,-0.059),(1904,-0.056),(1909,-0.062),(1914,-0.068),(1919,-0.059),(1924,-0.056),(1932,-0.052),(1939,-0.059),(1944,-0.046),(1949,-0.043),(1954,-0.040),(1959,-0.034),(1964,-0.031),(1969,-0.028),(1974,-0.029),(1979,-0.034),(1984,-0.046),(1989,-0.052),(1994,-0.056),(1999,-0.059),(2002,-0.108),(2004,-0.071),(2009,-0.052),(2014,-0.052),(2019,-0.046),(2024,-0.040),(2029,-0.049),(2034,-0.052),(2039,-0.059),(2044,-0.062),(2049,-0.065),(2054,-0.056),(2059,-0.043),(2064,-0.040),(2069,-0.037),(2074,-0.042),(2079,-0.040),(2084,-0.034),(2089,-0.040),(2094,-0.043),(2099,-0.037),(2104,-0.034),(2109,-0.043),(2114,-0.040),(2119,-0.037),(2124,-0.040),(2129,-0.043),(2134,-0.045),(2139,-0.049),(2144,-0.052),(2149,-0.056),(2154,-0.059),(2159,-0.056),(2164,-0.057),(2174,-0.059),(2184,-0.057),(2194,-0.059),(2204,-0.062),(2214,-0.068),(2219,-0.065),(2224,-0.056),(2229,-0.052),(2234,-0.043),(2244,-0.037),(2254,-0.040),(2259,-0.034),(2264,-0.037),(2274,-0.031),(2279,-0.028),(2284,-0.022),(2289,-0.012),(2294,-0.009),(2299,-0.025),(2304,-0.046),(2309,-0.059),(2314,-0.071),(2319,-0.056),(2324,-0.052),(2329,-0.049),(2334,-0.056),(2339,-0.059),(2344,-0.052),(2349,-0.056),(2354,-0.052),(2359,-0.040),(2364,-0.037),(2369,-0.034),(2374,-0.037),(2384,-0.034),(2394,-0.035),(2404,-0.040),(2414,-0.046),(2424,-0.049),(2434,-0.046),(2444,-0.052),(2454,-0.046),(2462,-0.043),(2466,-0.042),(2472,-0.052),(2479,-0.059),(2486,-0.062),(2494,-0.062),(2504,-0.065),(2514,-0.063),(2524,-0.062),(2534,-0.059),(2536,-0.040),(2540,-0.059),(2549,-0.065),(2559,-0.068),(2569,-0.065),(2576,-0.062),(2584,-0.068),(2592,-0.074),(2599,-0.071),(2606,-0.074),(2612,-0.077),(2619,-0.080),(2624,-0.080),(2632,-0.085),(2639,-0.086),(2644,-0.086),(2649,-0.088),
]

SERIES_LABELS = ["1-Month Realized Correlations", "3-Month Realized Correlations",
                 "6-Month Realized Correlations", "1-Year Realized Correlations",
                 "2-Year Realized Correlations"]
SERIES_COLORS = ["#0000FF", "#FF0000", "#008000", "#000000", "#008080"]
LEFT_TICKS = [-0.20, -0.15, -0.10, -0.05, 0.00, 0.05, 0.10]
LEFT_LABELS = ["-.20", "-.15", "-.10", "-.05", ".00", ".05", ".10"]
RIGHT_TICKS = [-0.8, -0.4, 0.0, 0.4, 0.8]
RIGHT_LABELS = ["-.8", "-.4", ".0", ".4", ".8"]
YEARS = list(range(2000, 2010))
YEAR_LABELS = ["00", "01", "02", "03", "04", "05", "06", "07", "08", "09"]

# ---------------- plotting ----------------
sns.set_theme(style="white")
plt.rcParams["font.family"] = ["Liberation Sans", "DejaVu Sans"]
plt.rcParams["text.color"] = "black"
plt.rcParams["xtick.color"] = "black"
plt.rcParams["ytick.color"] = "black"

bdays = pd.bdate_range("2000-01-03", periods=2700)


def frame(pts):
    d, v = zip(*pts)
    return pd.DataFrame({"date": bdays[list(d)], "value": list(v)})


fig = plt.figure(figsize=(10.08, 7.80), dpi=100)
ax = fig.add_axes([71 / 1008, 1 - 550 / 780, 885 / 1008, 531 / 780])
ax2 = ax.twinx()

ax.axhline(0, color="black", lw=0.9, zorder=0)
ax2.axhline(0, color="black", lw=0.9, zorder=0)

LW = 1.3
right_series = [BLUE_1M, RED_3M, GREEN_6M]
left_series = [BLACK_1Y, TEAL_2Y]
for pts, col in zip(left_series, SERIES_COLORS[3:]):
    sns.lineplot(data=frame(pts), x="date", y="value", ax=ax, color=col, lw=LW,
                 estimator=None, sort=False, legend=False)
for pts, col in zip(right_series, SERIES_COLORS[:3]):
    sns.lineplot(data=frame(pts), x="date", y="value", ax=ax2, color=col, lw=LW,
                 estimator=None, sort=False, legend=False)

ax.set_xlim(pd.Timestamp("2000-01-01"), pd.Timestamp("2010-03-04"))
ax.set_ylim(-0.20, 0.290)
ax2.set_ylim(-1.822, 0.80)
for a in (ax, ax2):
    a.set_xlabel("")
    a.set_ylabel("")

TICK_FS = 16.5
ax.set_yticks(LEFT_TICKS)
ax.set_yticklabels(LEFT_LABELS)
ax2.set_yticks(RIGHT_TICKS)
ax2.set_yticklabels(RIGHT_LABELS)
ax.tick_params(axis="y", direction="out", length=7.2, width=1.0, pad=5,
               labelsize=TICK_FS, colors="black", left=True)
ax2.tick_params(axis="y", direction="out", length=7.2, width=1.0, pad=5,
                labelsize=TICK_FS, colors="black", right=True)

ax.xaxis.set_major_locator(mdates.YearLocator())
ax.xaxis.set_minor_locator(mdates.MonthLocator(bymonth=[4, 7, 10]))
ax.tick_params(axis="x", which="major", direction="out", length=8.6, width=1.0,
               labelbottom=False, bottom=True)
ax.tick_params(axis="x", which="minor", direction="out", length=3.6, width=1.0,
               bottom=True)

sec = ax.secondary_xaxis("bottom")
sec.set_xticks([mdates.date2num(pd.Timestamp(f"{y}-07-02")) for y in YEARS])
sec.set_xticklabels(YEAR_LABELS)
sec.tick_params(axis="x", length=0, pad=10, labelsize=TICK_FS, colors="black")
sec.spines["bottom"].set_visible(False)

for a in (ax, ax2):
    for s in a.spines.values():
        s.set_color("black")
        s.set_linewidth(1.2)
        s.set_visible(True)

handles = [Line2D([], [], color=c, lw=1.3) for c in SERIES_COLORS]
leg = fig.legend(handles, SERIES_LABELS, loc="upper center",
                 bbox_to_anchor=(513.5 / 1008, 1 - 626 / 780), frameon=True,
                 fancybox=False, shadow=False, edgecolor="black", fontsize=17.6,
                 handlelength=2.7, handletextpad=0.45, labelspacing=0.31,
                 borderpad=0.45, borderaxespad=0.0)
leg.get_frame().set_linewidth(1.0)
for t in leg.get_texts():
    t.set_color("black")

fig.savefig("out.png", dpi=100)
